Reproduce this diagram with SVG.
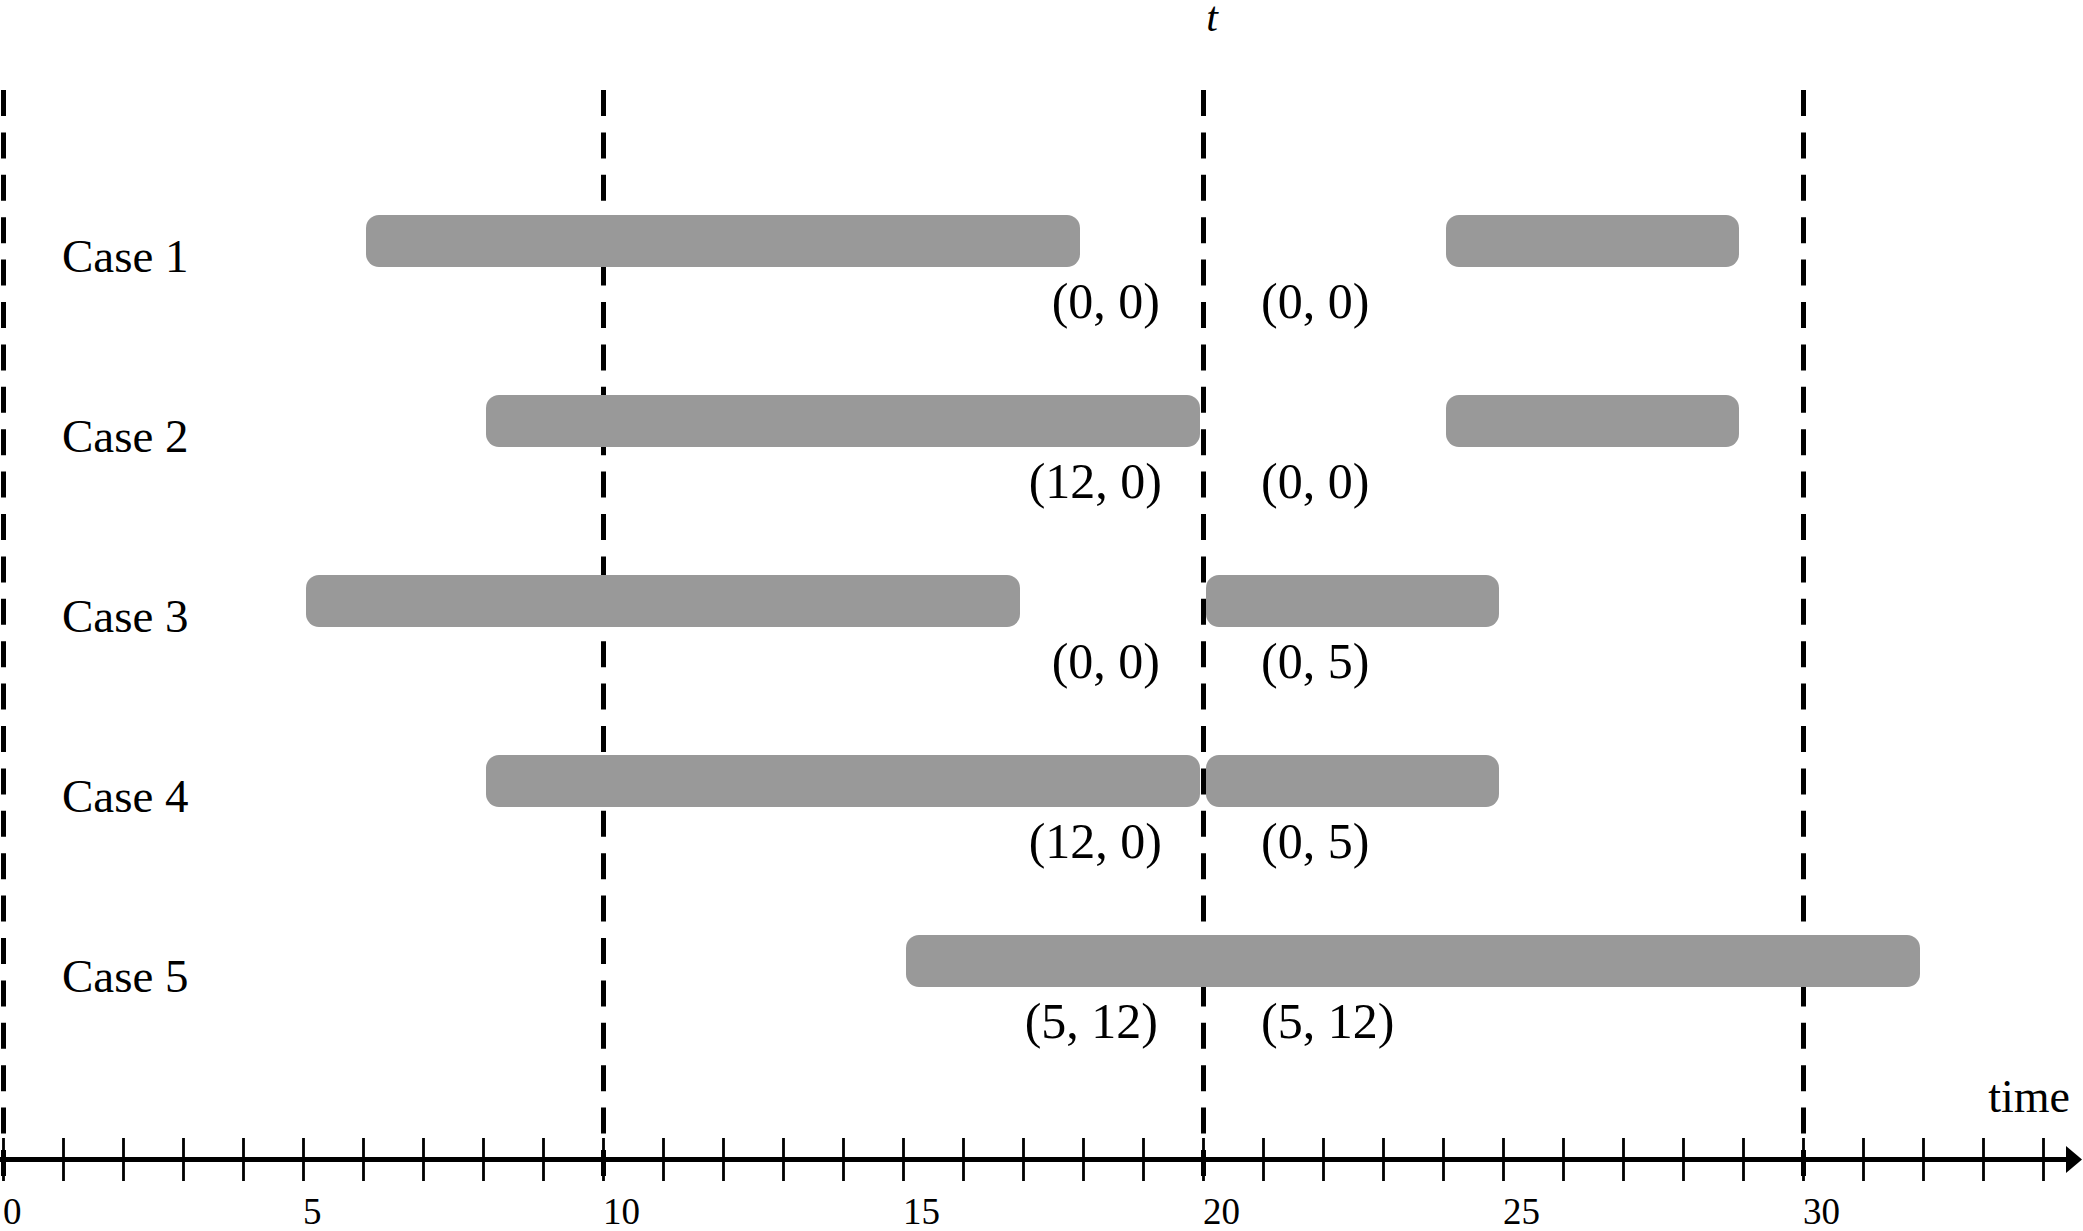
<svg xmlns="http://www.w3.org/2000/svg" width="2083" height="1231" viewBox="0 0 2083 1231">
<style>
.bar{fill:#999999}
.case{font-family:"Liberation Serif",serif;font-size:47px;fill:#000}
.lab{font-family:"Liberation Serif",serif;font-size:50px;fill:#000}
.num{font-family:"Liberation Serif",serif;font-size:37px;fill:#000}
.dash{stroke:#000;stroke-width:5;stroke-dasharray:26 16.4;fill:none}
</style>
<defs>
<marker id="arr" markerWidth="6" markerHeight="6" refX="0" refY="3" orient="auto" markerUnits="strokeWidth"><path d="M0,0.3 L3.2,3 L0,5.7 Z" fill="#000"/></marker>
</defs>
<rect width="2083" height="1231" fill="#fff"/>
<g id="connectors">
<line class="dash" x1="3.5" y1="90" x2="3.5" y2="1176"/>
<line class="dash" x1="603.5" y1="90" x2="603.5" y2="1176"/>
<line class="dash" x1="1203.5" y1="90" x2="1203.5" y2="1176"/>
<line class="dash" x1="1803.5" y1="90" x2="1803.5" y2="1176"/>
</g>
<g id="axis">
<line x1="0" y1="1159.5" x2="2066" y2="1159.5" stroke="#000" stroke-width="5" marker-end="url(#arr)"/>
<path stroke="#000" stroke-width="2.8" d="M3.5,1138V1181M63.5,1138V1181M123.5,1138V1181M183.5,1138V1181M243.5,1138V1181M303.5,1138V1181M363.5,1138V1181M423.5,1138V1181M483.5,1138V1181M543.5,1138V1181M603.5,1138V1181M663.5,1138V1181M723.5,1138V1181M783.5,1138V1181M843.5,1138V1181M903.5,1138V1181M963.5,1138V1181M1023.5,1138V1181M1083.5,1138V1181M1143.5,1138V1181M1203.5,1138V1181M1263.5,1138V1181M1323.5,1138V1181M1383.5,1138V1181M1443.5,1138V1181M1503.5,1138V1181M1563.5,1138V1181M1623.5,1138V1181M1683.5,1138V1181M1743.5,1138V1181M1803.5,1138V1181M1863.5,1138V1181M1923.5,1138V1181M1983.5,1138V1181M2043.5,1138V1181"/>
<text class="num" x="3" y="1224">0</text>
<text class="num" x="303" y="1224">5</text>
<text class="num" x="603" y="1224">10</text>
<text class="num" x="903" y="1224">15</text>
<text class="num" x="1203" y="1224">20</text>
<text class="num" x="1503" y="1224">25</text>
<text class="num" x="1803" y="1224">30</text>
<text x="2070" y="1112" text-anchor="end" style="font-family:'Liberation Serif',serif;font-size:46px">time</text>
<text x="1212" y="31" text-anchor="middle" style="font-family:'Liberation Serif',serif;font-size:42px;font-style:italic">t</text>
</g>
<g id="case1">
<text class="case" x="62" y="272">Case 1</text>
<rect class="bar" x="366" y="215" width="714" height="52" rx="13"/>
<rect class="bar" x="1446" y="215" width="293" height="52" rx="13"/>
<text class="lab" x="1160" y="318" text-anchor="end">(0, 0)</text>
<text class="lab" x="1261" y="318">(0, 0)</text>
</g>
<g id="case2">
<text class="case" x="62" y="452">Case 2</text>
<rect class="bar" x="486" y="395" width="714" height="52" rx="13"/>
<rect class="bar" x="1446" y="395" width="293" height="52" rx="13"/>
<text class="lab" x="1162" y="498" text-anchor="end">(12, 0)</text>
<text class="lab" x="1261" y="498">(0, 0)</text>
</g>
<g id="case3">
<text class="case" x="62" y="632">Case 3</text>
<rect class="bar" x="306" y="575" width="714" height="52" rx="13"/>
<rect class="bar" x="1206" y="575" width="293" height="52" rx="13"/>
<text class="lab" x="1160" y="678" text-anchor="end">(0, 0)</text>
<text class="lab" x="1261" y="678">(0, 5)</text>
</g>
<g id="case4">
<text class="case" x="62" y="812">Case 4</text>
<rect class="bar" x="486" y="755" width="714" height="52" rx="13"/>
<rect class="bar" x="1206" y="755" width="293" height="52" rx="13"/>
<text class="lab" x="1162" y="858" text-anchor="end">(12, 0)</text>
<text class="lab" x="1261" y="858">(0, 5)</text>
</g>
<g id="case5">
<text class="case" x="62" y="992">Case 5</text>
<rect class="bar" x="906" y="935" width="1014" height="52" rx="13"/>
<text class="lab" x="1158" y="1038" text-anchor="end">(5, 12)</text>
<text class="lab" x="1261" y="1038">(5, 12)</text>
</g>
</svg>
